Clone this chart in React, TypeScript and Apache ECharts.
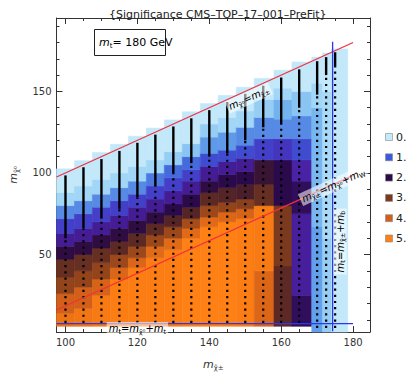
import React, { useEffect, useRef } from "react";
import * as echarts from "echarts";

const FONT = "DejaVu Sans";

// axis ticks & labels
const xTickLabels = [100, 120, 140, 160, 180];
const xMinorTicks = [105, 110, 115, 125, 130, 135, 145, 150, 155, 165, 170, 175];
const yTickLabels = [50, 100, 150];
const yMinorTicks = [10, 20, 30, 40, 60, 70, 80, 90, 110, 120, 130, 140, 160, 170, 180, 190];

// heat-map columns: x edges, bottom of each column, and [yTop, significance] bands from bottom to top
const colEdges = [97.5, 102.5, 107.5, 112.5, 117.5, 122.5, 127.5, 132.5, 137.5, 142.5, 147.5, 152.5, 158, 163, 168.5, 171.5, 174, 178.5];
const colBottoms = [6, 6, 6, 6, 6, 6, 6, 6, 6, 6, 6, 6, 6, 6, 2.5, 2.5, 2.5];
const col100 = [[14, 4.6], [26, 4.0], [36, 3.3], [47, 2.8], [55, 2.1], [63, 1.6], [72, 1.2], [80, 0.85], [88, 0.5], [102.5, 0.2]];
const col105 = [[17, 4.7], [30, 4.0], [40, 3.3], [50, 2.8], [58, 2.1], [66, 1.6], [75, 1.2], [83, 0.85], [92, 0.5], [107.5, 0.2]];
const col110 = [[25, 4.8], [35, 4.1], [45, 3.3], [54, 2.8], [62, 2.1], [70, 1.6], [79, 1.2], [87, 0.85], [96, 0.5], [112.5, 0.2]];
const col115 = [[35, 4.9], [42, 4.2], [50, 3.4], [58, 2.7], [66, 2.1], [74, 1.6], [83, 1.2], [91, 0.85], [100, 0.5], [117.5, 0.2]];
const col120 = [[42, 4.9], [48, 4.2], [55, 3.4], [63, 2.7], [71, 2.1], [79, 1.6], [87, 1.2], [95, 0.85], [104, 0.5], [122.5, 0.2]];
const col125 = [[48, 4.9], [55, 4.3], [62, 3.4], [69, 2.7], [76, 2.1], [84, 1.6], [92, 1.2], [100, 0.9], [108, 0.5], [127.5, 0.2]];
const col130 = [[53, 4.9], [60, 4.3], [67, 3.4], [74, 2.6], [81, 2.0], [89, 1.6], [97, 1.2], [105, 0.95], [113, 0.55], [132.5, 0.2]];
const col135 = [[60, 5.0], [66, 4.3], [72, 3.5], [79, 2.6], [87, 2.0], [95, 1.6], [102, 1.2], [110, 0.95], [118, 0.6], [137.5, 0.2]];
const col140 = [[67, 5.0], [73, 4.3], [80, 3.4], [88, 2.7], [95, 2.1], [104, 1.6], [112, 1.1], [122, 0.8], [130, 0.55], [142.5, 0.2]];
const col145 = [[70, 5.0], [76, 4.2], [82, 3.3], [91, 2.6], [99, 2.0], [107, 1.6], [114, 1.1], [125, 0.8], [134, 0.5], [147.5, 0.2]];
const col150 = [[72, 4.9], [78, 4.1], [84, 3.2], [93, 2.5], [101, 2.0], [109, 1.6], [117, 1.1], [128, 0.85], [138, 0.5], [152.5, 0.2]];
const col155 = [[40, 4.2], [80, 4.8], [93, 2.8], [108, 2.3], [121, 1.2], [134, 0.85], [145, 0.55], [158, 0.2]];
const col160 = [[43, 2.7], [80, 3.0], [108, 2.0], [121, 1.3], [133, 0.85], [145, 0.7], [152, 0.5], [163, 0.2]];
const col165 = [[25, 1.9], [75, 1.55], [95, 1.9], [108, 1.5], [121, 1.1], [135, 0.85], [150, 0.6], [168, 0.2]];
const col170 = [[67, 0.78], [140, 0.68], [155, 0.5], [171, 0.2]];
const col172 = [[60, 0.55], [150, 0.45], [173.5, 0.2]];
const col175 = [[176, 0.2]];
const colBands = [col100, col105, col110, col115, col120, col125, col130, col135, col140, col145, col150, col155, col160, col165, col170, col172, col175];

// scan points: columns, dotted from bottom, solid near the diagonal
const scanX = [100, 105, 110, 115, 120, 125, 130, 135, 140, 145, 150, 155, 160, 165, 170, 172.5, 175];
const scanTop = [98.5, 103.5, 108.5, 113.5, 118.5, 123.5, 128.5, 133.5, 138.5, 143.5, 148.5, 153.5, 158.5, 163.5, 168.5, 171, 174];
const scanSolidBottom = [60, 66, 72, 78, 85, 92, 100, 106, 110, 112, 120, 128, 130, 140, 148, 160, 165];
const scanDotBottom = [8, 8, 8, 8, 8, 8, 8, 8, 8, 8, 8, 8, 8, 8, 5, 5, 5];

// kinematic lines
const lineDiag = [[97.5, 97.5], [180, 180]];
const lineW = [[97.5, 16], [180, 98.5]];
const lineBottom = [[97.5, 7.6], [180, 7.6]];
const lineVertical = [[174.3, 3], [174.3, 180.5]];

// legend
const legendLabels = ["0.", "1.", "2.", "3.", "4.", "5."];
const legendColors = ["#c5ebfa", "#3d5ad8", "#2a0a4a", "#7b3a1e", "#d2601a", "#ff8014"];

const scaleColors = [
  "#d0eefb", "#bfe6fa", "#a2d6f6", "#66aaec", "#3d5ad8", "#4438c4", "#4a22a6", "#3a1478", "#2a0a4a",
  "#361238", "#4a1e2a", "#622c22", "#7b3a1e", "#8e421c", "#a64c18", "#bc5618", "#d2601a", "#de6818",
  "#ea7016", "#f57814", "#ff8014",
];

const RED = "#f2303c";
const BLUE = "#2838f0";

export default function App() {
  const ref = useRef<HTMLDivElement>(null);

  useEffect(() => {
    if (!ref.current) return;
    const chart = echarts.init(ref.current, undefined, { renderer: "svg" });

    const cells: number[][] = [];
    colBands.forEach((bands, i) => {
      let y0 = colBottoms[i];
      bands.forEach(([yTop, v]) => {
        cells.push([colEdges[i], colEdges[i + 1], y0, yTop, v]);
        y0 = yTop;
      });
    });
    const scans = scanX.map((x, i) => [x, scanDotBottom[i], scanSolidBottom[i], scanTop[i]]);

    const axisCommon = {
      type: "value" as const,
      splitLine: { show: false },
      axisLine: { show: true, onZero: false, lineStyle: { color: "#333", width: 1 } },
    };
    const xr = { min: 97.5, max: 184.7 };
    const yr = { min: 2.5, max: 195 };

    chart.setOption({
      animation: false,
      textStyle: { fontFamily: FONT },
      title: {
        text: "{Significance CMS–TOP–17–001–PreFit}",
        left: 104,
        top: 4,
        textStyle: { fontSize: 11, fontWeight: "normal", color: "#222", fontFamily: FONT },
      },
      grid: { left: 50, top: 18, width: 320, height: 321 },
      xAxis: [
        {
          ...axisCommon, ...xr, position: "bottom",
          axisTick: { inside: true, length: 6, customValues: xTickLabels, lineStyle: { color: "#333" } },
          axisLabel: { customValues: xTickLabels, fontSize: 10, color: "#333", margin: 5, fontFamily: FONT },
          name: "{m|m}{s|χ̃±}",
          nameLocation: "middle",
          nameGap: 25,
          nameTextStyle: {
            rich: {
              m: { fontSize: 11, fontStyle: "italic", color: "#333", fontFamily: FONT },
              s: { fontSize: 7, color: "#333", padding: [7, 0, 0, 0], fontFamily: FONT },
            },
          },
        },
        {
          ...axisCommon, ...xr, position: "bottom",
          axisLine: { show: false },
          axisTick: { inside: true, length: 3, customValues: xMinorTicks, lineStyle: { color: "#333" } },
          axisLabel: { show: false },
        },
        {
          ...axisCommon, ...xr, position: "top",
          axisTick: { inside: true, length: 6, customValues: xTickLabels, lineStyle: { color: "#333" } },
          axisLabel: { show: false },
        },
        {
          ...axisCommon, ...xr, position: "top",
          axisLine: { show: false },
          axisTick: { inside: true, length: 3, customValues: xMinorTicks, lineStyle: { color: "#333" } },
          axisLabel: { show: false },
        },
      ],
      yAxis: [
        {
          ...axisCommon, ...yr, position: "left",
          axisTick: { inside: true, length: 6, customValues: yTickLabels, lineStyle: { color: "#333" } },
          axisLabel: { customValues: yTickLabels, fontSize: 10, color: "#333", margin: 5, fontFamily: FONT },
          name: "{m|m}{s|χ̃⁰}",
          nameLocation: "middle",
          nameGap: 36,
          nameRotate: 90,
          nameTextStyle: {
            rich: {
              m: { fontSize: 11, fontStyle: "italic", color: "#333", fontFamily: FONT },
              s: { fontSize: 7, color: "#333", padding: [7, 0, 0, 0], fontFamily: FONT },
            },
          },
        },
        {
          ...axisCommon, ...yr, position: "left",
          axisLine: { show: false },
          axisTick: { inside: true, length: 3, customValues: yMinorTicks, lineStyle: { color: "#333" } },
          axisLabel: { show: false },
        },
        {
          ...axisCommon, ...yr, position: "right",
          axisTick: { inside: true, length: 6, customValues: yTickLabels, lineStyle: { color: "#333" } },
          axisLabel: { show: false },
        },
        {
          ...axisCommon, ...yr, position: "right",
          axisLine: { show: false },
          axisTick: { inside: true, length: 3, customValues: yMinorTicks, lineStyle: { color: "#333" } },
          axisLabel: { show: false },
        },
      ],
      visualMap: {
        type: "continuous",
        show: false,
        seriesIndex: 0,
        dimension: 4,
        min: 0,
        max: 5,
        inRange: { color: scaleColors },
      },
      series: [
        {
          type: "custom",
          z: 1,
          data: cells,
          encode: { x: [0, 1], y: [2, 3] },
          renderItem: (params: any, api: any) => {
            const p0 = api.coord([api.value(0), api.value(3)]);
            const p1 = api.coord([api.value(1), api.value(2)]);
            const c = api.visual("color");
            return {
              type: "rect",
              shape: { x: p0[0], y: p0[1], width: p1[0] - p0[0], height: p1[1] - p0[1] },
              style: { fill: c, stroke: c, lineWidth: 0.6 },
            };
          },
        },
        {
          type: "custom",
          z: 2,
          data: scans,
          encode: { x: 0, y: [1, 2, 3] },
          renderItem: (params: any, api: any) => {
            const x = api.value(0);
            const pd = api.coord([x, api.value(1)]);
            const ps = api.coord([x, api.value(2)]);
            const pt = api.coord([x, api.value(3)]);
            return {
              type: "group",
              children: [
                {
                  type: "line",
                  shape: { x1: pd[0], y1: pd[1], x2: ps[0], y2: ps[1] },
                  style: { stroke: "#000", lineWidth: 2.2, lineDash: [2.2, 4] },
                },
                {
                  type: "line",
                  shape: { x1: ps[0], y1: ps[1], x2: pt[0], y2: pt[1] },
                  style: { stroke: "#000", lineWidth: 2.4 },
                },
              ],
            };
          },
        },
        { type: "line", z: 3, data: lineDiag, symbol: "none", lineStyle: { color: RED, width: 1.2 } },
        { type: "line", z: 3, data: lineW, symbol: "none", lineStyle: { color: RED, width: 1.2 } },
        { type: "line", z: 3, data: lineBottom, symbol: "none", lineStyle: { color: BLUE, width: 1.3 } },
        { type: "line", z: 3, data: lineVertical, symbol: "none", lineStyle: { color: BLUE, width: 1.3 } },
      ],
    });

    const toPx = (p: number[]) => chart.convertToPixel({ gridIndex: 0 }, p) as number[];
    const angleOf = (line: number[][]) => {
      const a = toPx(line[0]);
      const b = toPx(line[1]);
      return Math.atan2(a[1] - b[1], b[0] - a[0]);
    };
    const richRed = {
      m: { fontSize: 10, fontStyle: "italic", color: RED, fontFamily: FONT },
      s: { fontSize: 6.5, color: RED, padding: [6, 0, 0, 0], fontFamily: FONT },
      n: { fontSize: 10, color: RED, fontFamily: FONT },
    };
    const lab = (pos: number[], text: string, rotation: number) => {
      const p = toPx(pos);
      return {
        type: "text",
        x: p[0],
        y: p[1],
        rotation,
        z: 20,
        style: {
          text,
          rich: richRed,
          align: "center",
          verticalAlign: "middle",
          backgroundColor: "rgba(255,255,255,0.55)",
          padding: [0, 2],
        },
      };
    };

    const legend: any[] = [];
    legendLabels.forEach((t, i) => {
      const y = 137 + i * 20.3;
      legend.push({
        type: "rect",
        shape: { x: 385.5, y: y - 3.5, width: 7, height: 7 },
        style: { fill: legendColors[i], stroke: "#888", lineWidth: 0.6 },
      });
      legend.push({
        type: "text",
        x: 396,
        y,
        style: { text: t, fontSize: 11, fill: "#222", fontFamily: FONT, verticalAlign: "middle" },
      });
    });

    chart.setOption({
      graphic: [
        {
          type: "rect",
          shape: { x: 94.5, y: 29.5, width: 71, height: 26 },
          style: { fill: "#fff", stroke: "#222", lineWidth: 1 },
          z: 20,
        },
        {
          type: "text",
          x: 99,
          y: 42,
          z: 21,
          style: {
            text: "{m|m}{s|t}{n|= 180 GeV}",
            verticalAlign: "middle",
            rich: {
              m: { fontSize: 11, fontStyle: "italic", color: "#222", fontFamily: FONT },
              s: { fontSize: 7, color: "#222", padding: [8, 0, 0, 0], fontFamily: FONT },
              n: { fontSize: 11, color: "#222", fontFamily: FONT },
            },
          },
        },
        lab([151, 146], "{m|m}{s|χ̃⁰}{n|=}{m|m}{s|χ̃±}", angleOf(lineDiag)),
        lab([174.5, 92.5], "{m|m}{s|χ̃±}{n|=}{m|m}{s|χ̃⁰}{n|+}{m|m}{s|W}", angleOf(lineW)),
        lab([176.4, 58], "{m|m}{s|t}{n|=}{m|m}{s|χ̃±}{n|+}{m|m}{s|b}", Math.PI / 2),
        lab([120, 4.6], "{m|m}{s|t}{n|=}{m|m}{s|χ̃⁰}{n|+}{m|m}{s|t}", 0),
        ...legend,
      ],
    });

    return () => chart.dispose();
  }, []);

  return (
    <div
      ref={ref}
      style={{ position: "absolute", left: 0, top: 0, width: 409, height: 376 }}
    />
  );
}
